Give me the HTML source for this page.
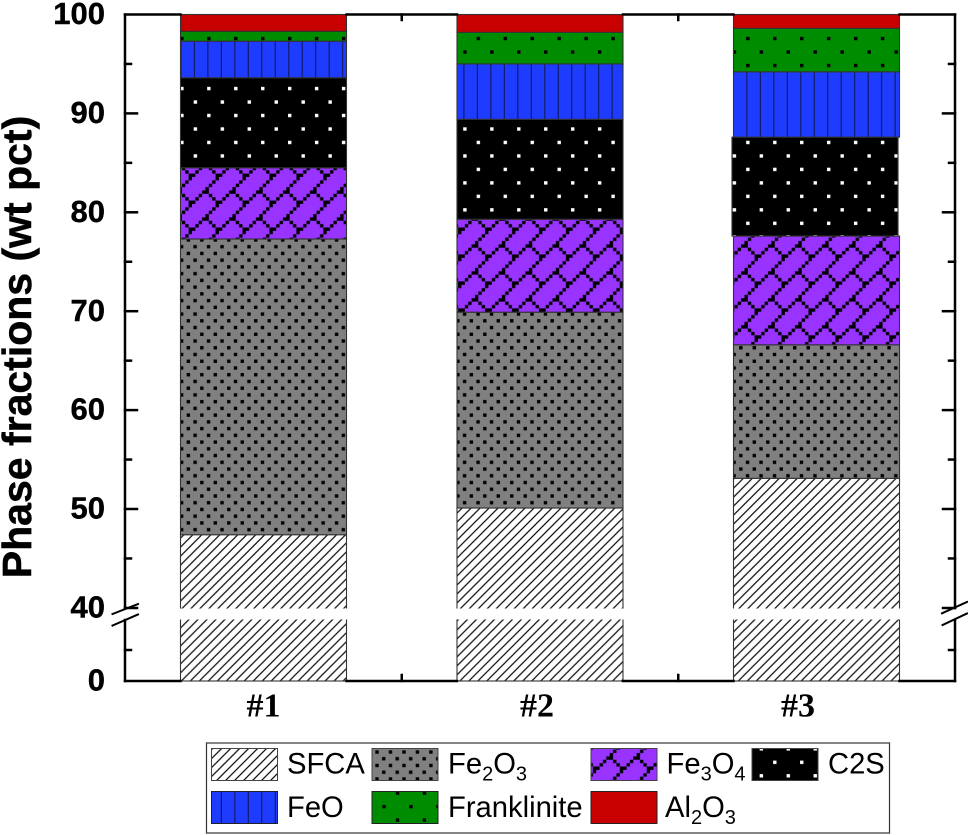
<!DOCTYPE html>
<html lang="en">
<head>
<meta charset="utf-8">
<title>Phase fractions stacked bar chart</title>
<style>
html,body{margin:0;padding:0;background:#fff;}
svg{display:block;font-family:"Liberation Sans",sans-serif;}
</style>
</head>
<body>
<svg id="chart" xmlns="http://www.w3.org/2000/svg" width="968" height="835" viewBox="0 0 968 835">
<defs>
<pattern id="p-sfca" patternUnits="userSpaceOnUse" width="8.983" height="8.983">
<rect width="8.983" height="8.983" fill="#fff"/>
<path d="M-1 9.983L9.983 -1M-1 1L1 -1M7.983 9.983L9.983 7.983" stroke="#111" stroke-width="1.3" fill="none"/>
</pattern>
<pattern id="p-fe2o3" patternUnits="userSpaceOnUse" width="13.475" height="13.475" patternTransform="translate(191.6,243.2)">
<rect width="13.475" height="13.475" fill="#808080"/>
<rect x="1.8" y="1.8" width="3.4" height="3.4" fill="#000"/>
<rect x="8.54" y="8.54" width="3.4" height="3.4" fill="#000"/>
</pattern>
<pattern id="p-fe3o4" patternUnits="userSpaceOnUse" width="26.95" height="26.95" patternTransform="translate(178.5,163.5)">
<rect width="26.95" height="26.95" fill="#9933ff"/>
<path id="p-fe3o4-steps" d="" fill="#000"/>
</pattern>
<pattern id="p-c2s" patternUnits="userSpaceOnUse" width="26.95" height="26.95" patternTransform="translate(175.2,1)">
<rect width="26.95" height="26.95" fill="#000"/>
<rect x="5" y="5" width="3.4" height="3.4" fill="#fff"/>
<rect x="18.5" y="18.5" width="3.4" height="3.4" fill="#fff"/>
</pattern>
<pattern id="p-feo" patternUnits="userSpaceOnUse" width="13.475" height="13.475" patternTransform="translate(187.5,0)">
<rect width="13.475" height="13.475" fill="#1e3cff"/>
<rect x="6.3" y="0" width="1.2" height="13.475" fill="#101a66"/>
</pattern>
<pattern id="p-franklinite" patternUnits="userSpaceOnUse" width="26.95" height="26.95" patternTransform="translate(175.2,4.9)">
<rect width="26.95" height="26.95" fill="#008c00"/>
<rect x="5" y="5" width="3.4" height="3.4" fill="#000"/>
<rect x="18.5" y="18.5" width="3.4" height="3.4" fill="#000"/>
</pattern>
</defs>

<g id="bars"></g>
<g id="axes"></g>

<text transform="translate(31,347) rotate(-90)" text-anchor="middle" font-size="41" font-weight="700" fill="#000" stroke="#000" stroke-width="0.5">Phase fractions (wt pct)</text>

<g>
<rect x="206.5" y="743" width="683" height="90" fill="#fff" stroke="#333" stroke-width="1.2"/>
<g font-size="29.2" fill="#000">
<g>
<rect x="211.5" y="748.5" width="66" height="32" fill="url(#p-sfca)" stroke="#444"/>
<text x="287" y="773.5">SFCA</text>
</g>
<g>
<rect x="372" y="748.5" width="66" height="32" fill="url(#p-fe2o3)" stroke="#444"/>
<text x="448" y="773.5">Fe<tspan font-size="20" dy="7">2</tspan><tspan dy="-7">O</tspan><tspan font-size="20" dy="7">3</tspan></text>
</g>
<g>
<rect x="591" y="748.5" width="66" height="32" fill="url(#p-fe3o4)" stroke="#444"/>
<text x="666.5" y="773.5">Fe<tspan font-size="20" dy="7">3</tspan><tspan dy="-7">O</tspan><tspan font-size="20" dy="7">4</tspan></text>
</g>
<g>
<rect x="752" y="748.5" width="66" height="32" fill="url(#p-c2s)" stroke="#444"/>
<text x="828" y="773.5">C2S</text>
</g>
<g>
<rect x="211.5" y="791.5" width="66" height="32" fill="url(#p-feo)" stroke="#222"/>
<text x="287" y="817">FeO</text>
</g>
<g>
<rect x="372" y="791.5" width="66" height="32" fill="url(#p-franklinite)" stroke="#222"/>
<text x="448" y="817">Franklinite</text>
</g>
<g>
<rect x="591" y="791.5" width="66" height="32" fill="#c80000" stroke="#222"/>
<text x="665" y="817">Al<tspan font-size="20" dy="7">2</tspan><tspan dy="-7">O</tspan><tspan font-size="20" dy="7">3</tspan></text>
</g>
</g>
</g>
</svg>
<script>
// Chart data
var categories = ['#1', '#2', '#3'];
var seriesNames = ['sfca', 'fe2o3', 'fe3o4', 'c2s', 'feo', 'franklinite', 'al2o3'];
var sfca = [47.4, 50.1, 53.1];
var fe2o3 = [29.9, 19.8, 13.5];
var fe3o4 = [7.2, 9.4, 11.0];
var c2s = [9.1, 10.1, 10.0];
var feo = [3.7, 5.6, 6.6];
var franklinite = [1.0, 3.2, 4.4];
var al2o3 = [1.7, 1.8, 1.4];
var majorTicks = [0, 40, 50, 60, 70, 80, 90, 100];
var minorTicks = [20, 45, 55, 65, 75, 85, 95];
var tickLabels = ['0', '40', '50', '60', '70', '80', '90', '100'];

var seriesValues = [sfca, fe2o3, fe3o4, c2s, feo, franklinite, al2o3];
var seriesFills = ['url(#p-sfca)', 'url(#p-fe2o3)', 'url(#p-fe3o4)', 'url(#p-c2s)', 'url(#p-feo)', 'url(#p-franklinite)', '#c80000'];

var NS = 'http://www.w3.org/2000/svg';
var AX = {left: 125, right: 955, top: 14.5, bottom: 681, breakTop: 608, breakBottom: 620};

function yScale(v) {
  if (v >= 40) { return AX.top + (100 - v) * 9.89; }
  return AX.bottom - v * 1.55;
}
function xCenter(i) { return 263.5 + 276.5 * i; }
var BAR_W = 166;

function mk(tag, attrs, parent) {
  var el = document.createElementNS(NS, tag);
  for (var k in attrs) { el.setAttribute(k, attrs[k]); }
  parent.appendChild(el);
  return el;
}

// Brick pattern staircase for Fe3O4
(function () {
  var p = 26.95, s = p / 8, d = '', i;
  for (i = 0; i < 8; i++) {
    d += 'M' + (i * s) + ' ' + (p - (i + 1) * s) + 'h' + s + 'v' + s + 'h-' + s + 'z';
  }
  for (i = 0; i < 4; i++) {
    d += 'M' + (i * s) + ' ' + (i * s) + 'h' + s + 'v' + s + 'h-' + s + 'z';
  }
  document.getElementById('p-fe3o4-steps').setAttribute('d', d);
})();

// Bars
var barsG = document.getElementById('bars');
categories.forEach(function (cat, i) {
  var group = mk('g', {}, barsG);
  
  
  var cum = 0;
  seriesValues.forEach(function (vals, s) {
    var y0 = yScale(cum);
    var y1 = yScale(cum + vals[i]);
    cum += vals[i];
    var nudge = (seriesNames[s] === 'c2s' && i === 2) ? -1.5 : 0;
    var r = mk('rect', {
      x: xCenter(i) - BAR_W / 2 + nudge,
      y: y1,
      width: BAR_W,
      height: y0 - y1,
      fill: seriesFills[s],
      stroke: '#333',
      'stroke-width': 1.1
    }, group);
    
    
  });
});

// Axis break gap across bars
var gap = mk('rect', {x: 140, y: AX.breakTop + 0.5, width: 800, height: AX.breakBottom - AX.breakTop - 1, fill: '#fff'}, barsG);



// Axes
var axesG = document.getElementById('axes');
function line(x1, y1, x2, y2, name, w) {
  var l = mk('line', {x1: x1, y1: y1, x2: x2, y2: y2, stroke: '#000', 'stroke-width': w || 2.5, 'stroke-linecap': 'square'}, axesG);
  
  
  return l;
}
line(AX.left, AX.top, AX.left, AX.breakTop, 'left-axis-upper');
line(AX.left, AX.breakBottom, AX.left, AX.bottom, 'left-axis-lower');
line(AX.right, AX.top, AX.right, AX.breakTop, 'right-axis-upper');
line(AX.right, AX.breakBottom, AX.right, AX.bottom, 'right-axis-lower');
line(AX.left, AX.top, xCenter(0) - BAR_W / 2, AX.top, 'top-axis-a');
line(xCenter(0) + BAR_W / 2, AX.top, xCenter(1) - BAR_W / 2, AX.top, 'top-axis-b');
line(xCenter(1) + BAR_W / 2, AX.top, xCenter(2) - BAR_W / 2, AX.top, 'top-axis-c');
line(xCenter(2) + BAR_W / 2, AX.top, AX.right, AX.top, 'top-axis-d');
line(AX.left, AX.bottom, xCenter(0) - BAR_W / 2, AX.bottom, 'bottom-axis-a');
line(xCenter(0) + BAR_W / 2, AX.bottom, xCenter(1) - BAR_W / 2, AX.bottom, 'bottom-axis-b');
line(xCenter(1) + BAR_W / 2, AX.bottom, xCenter(2) - BAR_W / 2, AX.bottom, 'bottom-axis-c');
line(xCenter(2) + BAR_W / 2, AX.bottom, AX.right, AX.bottom, 'bottom-axis-d');

// Y ticks and labels
majorTicks.forEach(function (v, i) {
  var y = v === 40 ? AX.breakTop : yScale(v);
  if (v !== 0 && v !== 100) {
    line(AX.left, y, 137, y, 'y-tick-left-' + v);
    line(AX.right, y, 943, y, 'y-tick-right-' + v);
  }
  var t = mk('text', {x: 105, y: y + 9.6, 'text-anchor': 'end', 'font-size': 31, 'font-weight': 700, fill: '#000', stroke: '#000', 'stroke-width': 0.4}, axesG);
  
  
  t.textContent = tickLabels[i];
});
minorTicks.forEach(function (v) {
  var y = yScale(v);
  line(AX.left, y, 131, y, 'y-minor-tick-left-' + v);
  line(AX.right, y, 949, y, 'y-minor-tick-right-' + v);
});

// Axis break slashes
line(112.5, 614, 138, 604, 'axis-break-slash-left-top', 2);
line(112.5, 625.5, 138, 614.5, 'axis-break-slash-left-bottom', 2);
line(942, 613.3, 967, 602, 'axis-break-slash-right-top', 2);
line(942.5, 625, 967, 613.5, 'axis-break-slash-right-bottom', 2);

// X category labels and in-between ticks
var labelX = [263.5, 537, 798];
categories.forEach(function (cat, i) {
  var t = mk('text', {x: labelX[i], y: 716.5, 'text-anchor': 'middle', 'font-size': 34, 'font-weight': 700, 'font-family': '"Liberation Serif", serif', fill: '#000'}, axesG);
  
  
  t.textContent = cat;
  if (i < categories.length - 1) {
    var mid = (xCenter(i) + xCenter(i + 1)) / 2;
    line(mid, AX.bottom, mid, 675, 'x-tick-bottom-' + (i + 1));
    line(mid, AX.top, mid, 20, 'x-tick-top-' + (i + 1));
  }
});
</script>
</body>
</html>
